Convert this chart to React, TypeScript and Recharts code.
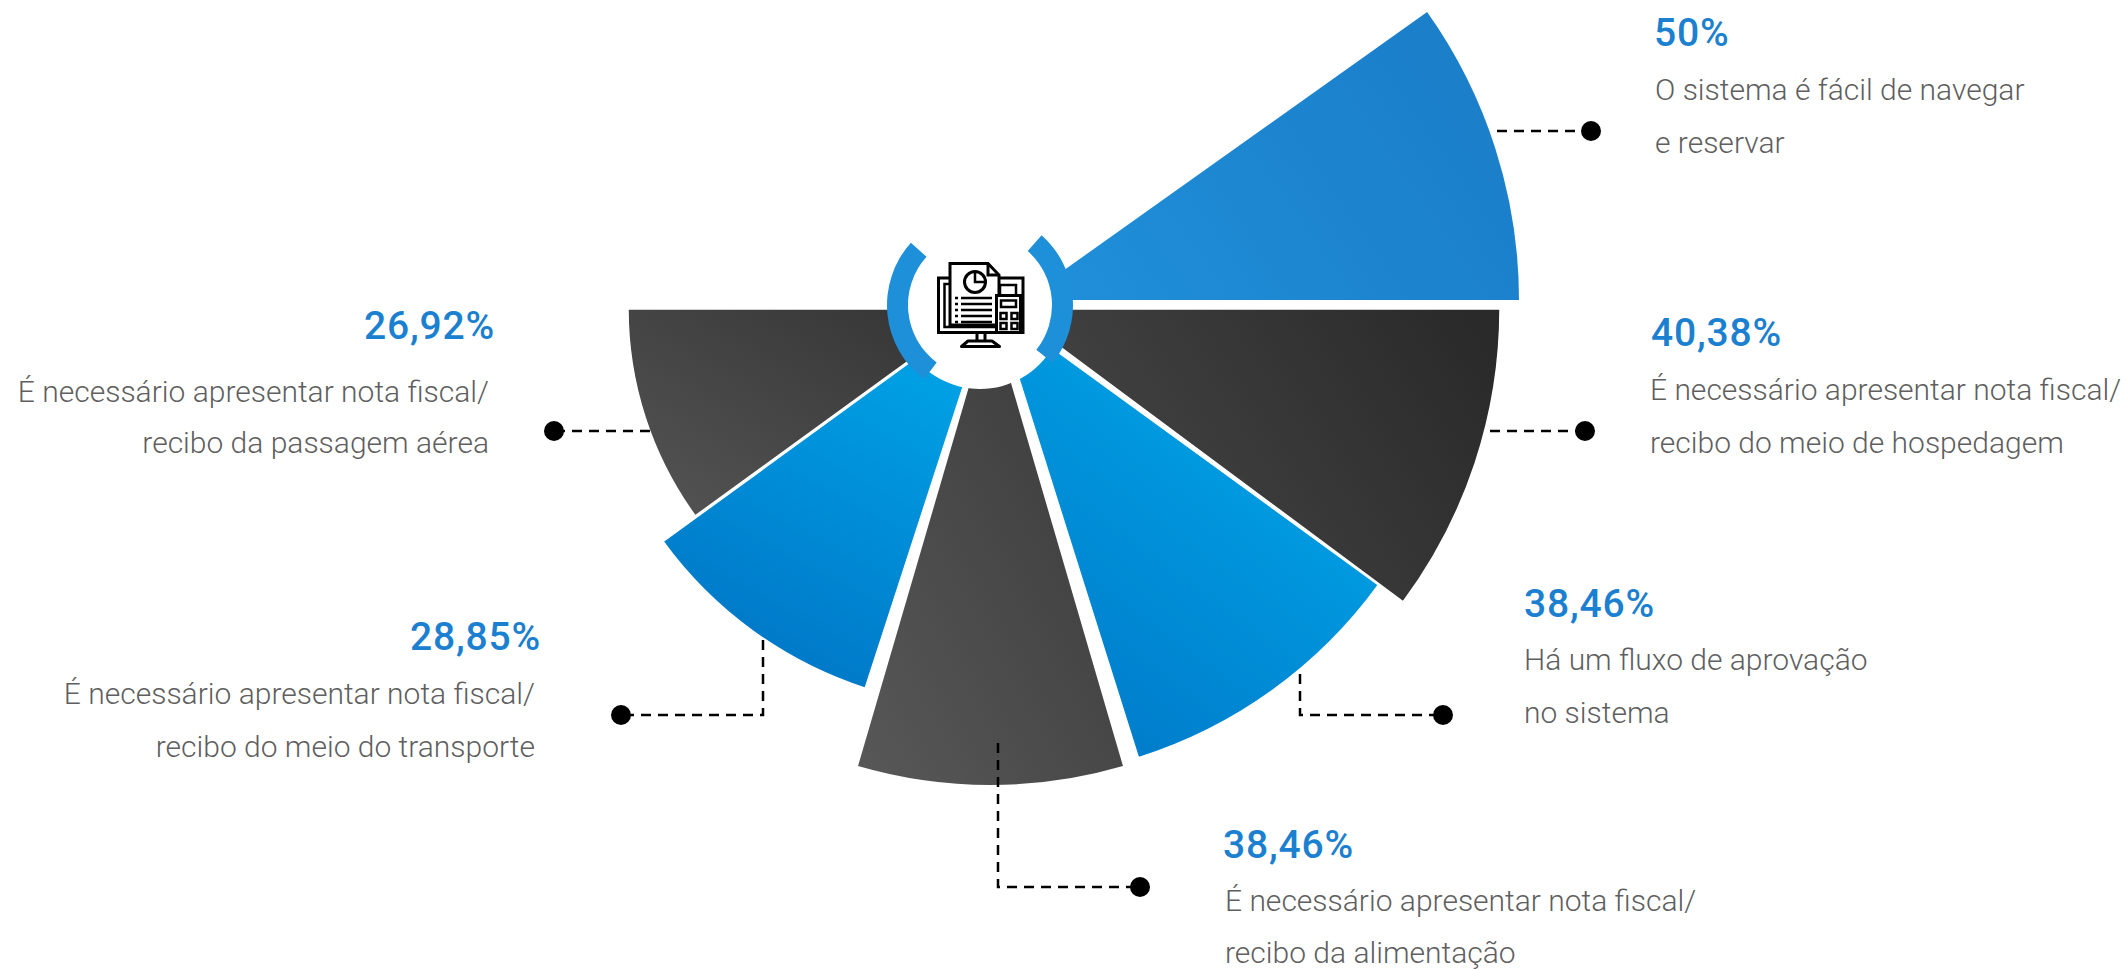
import { Pie, PieChart } from "recharts";

const labels = [
  "O sistema é fácil de navegar|e reservar",
  "É necessário apresentar nota fiscal/|recibo do meio de hospedagem",
  "Há um fluxo de aprovação|no sistema",
  "É necessário apresentar nota fiscal/|recibo da alimentação",
  "É necessário apresentar nota fiscal/|recibo do meio do transporte",
  "É necessário apresentar nota fiscal/|recibo da passagem aérea",
];
const values = [50, 40.38, 38.46, 38.46, 28.85, 26.92];

// value -> petal length, piecewise like a d3 scale
const radiusDomain = [26.92, 28.85, 38.46, 40.38, 50];
const radiusRange = [352, 404, 472, 491, 497];

function radiusOf(v: number) {
  for (let i = 1; i < radiusDomain.length; i++) {
    if (v <= radiusDomain[i]) {
      const t = (v - radiusDomain[i - 1]) / (radiusDomain[i] - radiusDomain[i - 1]);
      return radiusRange[i - 1] + t * (radiusRange[i] - radiusRange[i - 1]);
    }
  }
  return radiusRange[radiusRange.length - 1];
}

// apex and angular span of each petal
const petals = [
  { cx: 1022, cy: 300, start: 0, end: 35.4, fill: "petal0" },
  { cx: 1009, cy: 309, start: -36.6, end: 0, fill: "petal1" },
  { cx: 996.5, cy: 307.5, start: -72.5, end: -36, fill: "petal2" },
  { cx: 990.5, cy: 313, start: -106.3, end: -73.7, fill: "petal3" },
  { cx: 990, cy: 304, start: -144, end: -108, fill: "petal4" },
  { cx: 980, cy: 309, start: -180, end: -144, fill: "petal5" },
];

const gradients = [
  { id: "petal0", x1: 0, y1: 1, x2: 1, y2: 0.6, from: "#2090da", to: "#1b7fca" },
  { id: "petal1", x1: 0, y1: 0.6, x2: 1, y2: 0.2, from: "#474747", to: "#2a2a2a" },
  { id: "petal2", x1: 0.2, y1: 1, x2: 0.7, y2: 0.2, from: "#0079c9", to: "#00a1e4" },
  { id: "petal3", x1: 0, y1: 1, x2: 1, y2: 0, from: "#585858", to: "#383838" },
  { id: "petal4", x1: 0.3, y1: 1, x2: 0.75, y2: 0, from: "#0075c6", to: "#00a6e8" },
  { id: "petal5", x1: 0, y1: 1, x2: 1, y2: 0, from: "#555555", to: "#333333" },
];

const hubArcs = [
  { start: -38.5, end: 48.5 },
  { start: 138, end: 233 },
];

// text block and leader of each petal, in the order of `values`
const notes = [
  { x: 1654, bx: 1655, y: 46, l1: 100, l2: 153, anchor: "start", leader: "1497,131 1591,131", dot: [1591, 131] },
  { x: 1651, bx: 1650, y: 346, l1: 400, l2: 453, anchor: "start", leader: "1490,431 1585,431", dot: [1585, 431] },
  { x: 1524, bx: 1524, y: 617, l1: 670, l2: 723, anchor: "start", leader: "1300,674 1300,715 1443,715", dot: [1443, 715] },
  { x: 1223, bx: 1225, y: 858, l1: 911, l2: 963, anchor: "start", leader: "998,743 998,887 1140,887", dot: [1140, 887] },
  { x: 541, bx: 535, y: 650, l1: 704, l2: 757, anchor: "end", leader: "763,640 763,715 621,715", dot: [621, 715] },
  { x: 495, bx: 489, y: 339, l1: 402, l2: 453, anchor: "end", leader: "650,431 554,431", dot: [554, 431] },
];

const fmt = (v: number) => `${String(v).replace(".", ",")}%`;

function Note({ i }: { i: number }) {
  const n = notes[i];
  const [a, b] = labels[i].split("|");
  return (
    <g textAnchor={n.anchor as "start" | "end"}>
      <text x={n.x} y={n.y} fontSize={39} fontWeight={500} letterSpacing={0.8} fill="#1b80d0">
        {fmt(values[i])}
      </text>
      <text x={n.bx} y={n.l1} fontSize={30} fontWeight={300} fill="#5f5f5f">
        {a}
      </text>
      <text x={n.bx} y={n.l2} fontSize={30} fontWeight={300} fill="#5f5f5f">
        {b}
      </text>
      <polyline
        points={n.leader}
        fill="none"
        stroke="#000"
        strokeWidth={2.5}
        strokeDasharray="10 7"
      />
      <circle cx={n.dot[0]} cy={n.dot[1]} r={10} fill="#000" />
    </g>
  );
}

function HubIcon() {
  return (
    <g fill="none" stroke="#000" strokeWidth={3}>
      <path d="M950 278H938.5V332.500H1023V278H999" fill="#fff" />
      <path d="M950 284H944.500V327H996" strokeWidth={2.5} />
      <path d="M950 263.500H988L999 275V325H950Z" fill="#fff" />
      <path d="M988 263.500V275H999" />
      <circle cx={975} cy={282} r={10.500} />
      <path d="M975 271.500V282H985.500" strokeWidth={2.5} />
      <path d="M961 298H992M961 304H992M961 310H992M961 316H992M961 322H992" strokeWidth={2.5} />
      <path d="M955 298H958M955 304H958M955 310H958M955 316H958M955 322H958" strokeWidth={2.5} />
      <path d="M1000 295V285H1016V295" strokeWidth={2.5} />
      <rect x={996.500} y={295.500} width={24} height={37} fill="#fff" />
      <rect x={1001} y={300.500} width={15} height={6.500} strokeWidth={2.5} />
      <rect x={1000.500} y={313} width={6} height={6} strokeWidth={2.5} />
      <rect x={1011.500} y={313} width={6} height={6} strokeWidth={2.5} />
      <rect x={1000.500} y={323} width={6} height={6} strokeWidth={2.5} />
      <rect x={1011.500} y={323} width={6} height={6} strokeWidth={2.5} />
      <path d="M977 333V341M985 333V341" />
      <path d="M961.500 346.500H999.500L992 341H968Z" strokeLinejoin="round" />
    </g>
  );
}

export default function App() {
  return (
    <div style={{ position: "absolute", left: 0, top: 0, width: 2126, height: 970, background: "#fff" }}>
      <PieChart width={2126} height={970} margin={{ top: 0, right: 0, bottom: 0, left: 0 }}>
        <defs>
          {gradients.map((g) => (
            <linearGradient key={g.id} id={g.id} x1={g.x1} y1={g.y1} x2={g.x2} y2={g.y2}>
              <stop offset="0%" stopColor={g.from} />
              <stop offset="100%" stopColor={g.to} />
            </linearGradient>
          ))}
        </defs>
        {[5, 3, 1, 0, 2, 4].map((i) => (
          <Pie
            key={i}
            data={[{ name: labels[i], value: values[i] }]}
            dataKey="value"
            cx={petals[i].cx}
            cy={petals[i].cy}
            startAngle={petals[i].start}
            endAngle={petals[i].end}
            innerRadius={0}
            outerRadius={radiusOf(values[i])}
            fill={`url(#${petals[i].fill})`}
            stroke="#fff"
            strokeWidth={i === 0 || i === 3 ? 0 : 1.5}
            isAnimationActive={false}
          />
        ))}
        {/* white hub with the two blue arcs round it */}
        <Pie
          data={[{ value: 1 }]}
          dataKey="value"
          cx={980}
          cy={305}
          startAngle={0}
          endAngle={360}
          outerRadius={84}
          fill="#fff"
          stroke="none"
          isAnimationActive={false}
        />
        {hubArcs.map((a) => (
          <Pie
            key={a.start}
            data={[{ value: 1 }]}
            dataKey="value"
            cx={980}
            cy={305}
            startAngle={a.start}
            endAngle={a.end}
            innerRadius={72}
            outerRadius={93}
            fill="#1e8fd9"
            stroke="none"
            isAnimationActive={false}
          />
        ))}
      </PieChart>
      <svg
        width={2126}
        height={970}
        style={{ position: "absolute", left: 0, top: 0, fontFamily: "Roboto, sans-serif" }}
      >
        <HubIcon />
        {values.map((_, i) => (
          <Note key={i} i={i} />
        ))}
      </svg>
    </div>
  );
}
